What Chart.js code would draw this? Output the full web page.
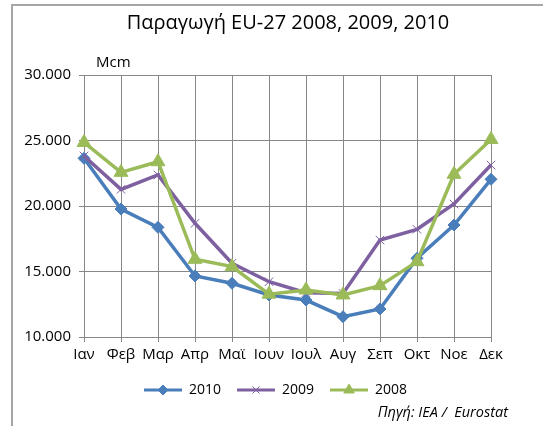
<!DOCTYPE html>
<html>
<head>
<meta charset="utf-8">
<script src="https://cdn.jsdelivr.net/npm/chart.js@4/dist/chart.umd.min.js"></script>
<style>
	body { margin: 0; background: #fff; }
	#wrap { position: relative; width: 543px; height: 426px; overflow: hidden; }
	#frame { position: absolute; left: 11px; top: 4px; width: 540px; height: 430px; border-left: 2px solid #a6a6a6; border-top: 2px solid #a6a6a6; }
	canvas { position: absolute; left: 0; top: 0; }
	.note { position: absolute; font-family: "Open Sans", sans-serif; color: #000; white-space: nowrap; }
	#title { left: 0; width: 576px; top: 10px; text-align: center; font-size: 20px; line-height: 24px; }
	#unit { left: 96px; top: 51px; font-size: 15px; }
	#source { right: 35px; top: 402px; font-size: 14.5px; font-style: italic; }
</style>
</head>
<body>
<div id="wrap">
	<div id="frame"></div>
	<canvas id="chart" width="543" height="426"></canvas>
	<div class="note" id="title">Παραγωγή EU-27 2008, 2009, 2010</div>
	<div class="note" id="unit">Mcm</div>
	<div class="note" id="source">Πηγή: IEA /&nbsp; Eurostat</div>
</div>
<script>
const months = ["Ιαν", "Φεβ", "Μαρ", "Απρ", "Μαϊ", "Ιουν", "Ιουλ", "Αυγ", "Σεπ", "Οκτ", "Νοε", "Δεκ"]
const prod2010 = [23640, 19770, 18370, 14660, 14100, 13210, 12820, 11550, 12140, 16010, 18550, 22040]
const prod2009 = [23820, 21270, 22370, 18680, 15630, 14220, 13380, 13330, 17400, 18220, 20150, 23130]
const prod2008 = [24850, 22570, 23380, 15930, 15370, 13270, 13590, 13210, 13920, 15750, 22420, 25080]
const yTickLabels = ["10.000", "15.000", "20.000", "25.000", "30.000"]

const blue = "#4a7ebb"
const purple = "#7e60a1"
const green = "#9bbb59"

// little line + marker picture for the legend, like the original
function legendSample(color, style, radius) {
	const c = document.createElement("canvas")
	c.width = 38
	c.height = 16
	const ctx = c.getContext("2d")
	ctx.strokeStyle = color
	ctx.lineWidth = 3
	ctx.beginPath()
	ctx.moveTo(0, 8)
	ctx.lineTo(38, 8)
	ctx.stroke()
	ctx.fillStyle = color
	ctx.lineWidth = 1
	Chart.helpers.drawPoint(ctx, { pointStyle: style, radius, borderWidth: 1 }, 19, 8)
	return c
}

const series = [
	{ label: "2010", data: prod2010, color: blue, style: "rectRot", radius: 6, order: 3 },
	{ label: "2009", data: prod2009, color: purple, style: "crossRot", radius: 6, order: 2 },
	{ label: "2008", data: prod2008, color: green, style: "triangle", radius: 8, order: 1 },
]

const datasets = series.map((s) => ({
	label: s.label,
	data: s.data,
	borderColor: s.color,
	backgroundColor: s.color,
	borderWidth: 3.5,
	pointStyle: s.style,
	pointRadius: s.radius,
	pointHoverRadius: s.radius,
	pointBorderWidth: 1,
	pointBackgroundColor: s.color,
	pointBorderColor: s.color,
	order: s.order,
	tension: 0,
}))

const gridColor = "#878787"

new Chart(document.getElementById("chart"), {
	type: "line",
	data: { labels: months, datasets },
	options: {
		responsive: false,
		animation: false,
		layout: { padding: { left: 8, right: 0, top: 75, bottom: 19 } },
		plugins: {
			title: { display: false },
			legend: {
				position: "bottom",
				labels: {
					color: "#000",
					font: { family: "Open Sans", size: 14 },
					usePointStyle: true,
					pointStyleWidth: 38,
					padding: 16,
					generateLabels: () =>
						series.map((s, i) => ({
							text: s.label,
							datasetIndex: i,
							pointStyle: legendSample(s.color, s.style, s.style === "triangle" ? 6 : 5),
							fillStyle: s.color,
							strokeStyle: s.color,
							fontColor: "#000",
							lineWidth: 0,
							hidden: false,
						})),
				},
			},
			tooltip: { enabled: false },
		},
		scales: {
			x: {
				offset: false,
				grid: { color: gridColor, lineWidth: 1, tickLength: 5, drawTicks: true },
				border: { color: gridColor, width: 1 },
				ticks: { color: "#000", font: { family: "Open Sans", size: 15 }, padding: 4, maxRotation: 0, autoSkip: false },
				afterFit: (scale) => {
					scale.height = 30
				},
			},
			y: {
				min: 10000,
				max: 30000,
				grid: { color: gridColor, lineWidth: 1, tickLength: 5 },
				border: { color: gridColor, width: 1 },
				ticks: {
					stepSize: 5000,
					color: "#000",
					font: { family: "Open Sans", size: 15 },
					padding: 8,
					callback: (value, index) => yTickLabels[index],
				},
				afterFit: (scale) => {
					scale.width = 76
				},
			},
			// empty axis on the right only to keep the plot where the original has it
			spacer: {
				type: "linear",
				position: "right",
				display: true,
				grid: { display: false },
				border: { display: false },
				ticks: { display: false },
				afterFit: (scale) => {
					scale.width = 52
				},
			},
		},
	},
})
</script>
</body>
</html>
